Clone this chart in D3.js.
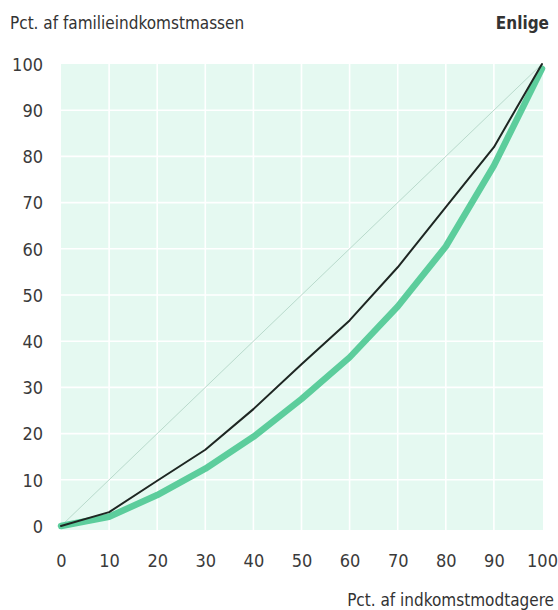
<!DOCTYPE html>
<html><head><meta charset="utf-8">
<script src="https://cdn.jsdelivr.net/npm/d3@7"></script>
<style>
html,body{margin:0;padding:0;background:#fff;}
svg{display:block;}
text{font-family:"DejaVu Sans Condensed","Liberation Sans",sans-serif;}
</style></head>
<body>
<script>
const pct = [0,10,20,30,40,50,60,70,80,90,100];
const blackSeries = [0,3,9.8,16.5,25.3,35,44.5,56,69,82,100];
const greenSeries = [0,2,6.7,12.4,19.3,27.5,36.5,47.5,60.5,78,99];
const equality = [0,100];
const ticks = [0,10,20,30,40,50,60,70,80,90,100];
const yTitle = "Pct. af familieindkomstmassen";
const xTitle = "Pct. af indkomstmodtagere";
const panelTitle = "Enlige";

const W = 558, H = 610;
const svg = d3.select("body").append("svg").attr("width", W).attr("height", H);
const x = d3.scaleLinear().domain([0,100]).range([61,542]);
const y = d3.scaleLinear().domain([0,100]).range([526,64]);

// background
svg.append("rect").attr("x", x(0)).attr("y", y(100))
  .attr("width", x(100)-x(0)+1).attr("height", y(0)-y(100)+4)
  .attr("fill", "#e5f9f1");

// grid
const g = svg.append("g");
g.selectAll(".vg").data(ticks.slice(1,-1)).join("line")
  .attr("x1", d=>x(d)).attr("x2", d=>x(d)).attr("y1", y(100)).attr("y2", y(0)+4)
  .attr("stroke", "#ffffff").attr("stroke-width", 1.6);
g.selectAll(".hg").data(ticks.slice(1,-1)).join("line")
  .attr("y1", d=>y(d)).attr("y2", d=>y(d)).attr("x1", x(0)).attr("x2", x(100)+1)
  .attr("stroke", "#ffffff").attr("stroke-width", 1.6);

// equality line
svg.append("line").attr("x1", x(equality[0])).attr("y1", y(equality[0]))
  .attr("x2", x(equality[1])).attr("y2", y(equality[1]))
  .attr("stroke", "#b3d6c7").attr("stroke-width", 0.9);

const line = d3.line().x((d,i)=>x(pct[i])).y(d=>y(d)).curve(d3.curveLinear);
svg.append("path").attr("d", line(greenSeries)).attr("fill","none")
  .attr("stroke","#5ccd9c").attr("stroke-width",6.5).attr("stroke-linejoin","round").attr("stroke-linecap","round");
svg.append("path").attr("d", line(blackSeries)).attr("fill","none")
  .attr("stroke","#1e2622").attr("stroke-width",2).attr("stroke-linejoin","round").attr("stroke-linecap","round");

// axes labels
const xAxis = d3.axisBottom(x).tickValues(ticks).tickSize(0).tickPadding(0);
const xa = svg.append("g").attr("transform","translate(0,554)").call(xAxis);
xa.select(".domain").remove();
xa.selectAll("text").attr("font-size",18).attr("fill","#3a3a3a").attr("dy","0.71em")
  .style("font-family",'"DejaVu Sans Condensed",sans-serif');

const yAxis = d3.axisLeft(y).tickValues(ticks).tickSize(0).tickPadding(0);
const ya = svg.append("g").attr("transform","translate(43,0)").call(yAxis);
ya.select(".domain").remove();
ya.selectAll("text").attr("font-size",18).attr("fill","#3a3a3a").attr("dy","0.35em")
  .style("font-family",'"DejaVu Sans Condensed",sans-serif');

svg.append("text").attr("x",10).attr("y",29).attr("font-size",17).attr("fill","#333").text(yTitle);
svg.append("text").attr("x",549).attr("y",29).attr("font-size",17).attr("font-weight","bold")
  .attr("text-anchor","end").attr("fill","#333").text(panelTitle);
svg.append("text").attr("x",554).attr("y",606).attr("font-size",17).attr("text-anchor","end")
  .attr("fill","#333").text(xTitle);
</script>
</body></html>
